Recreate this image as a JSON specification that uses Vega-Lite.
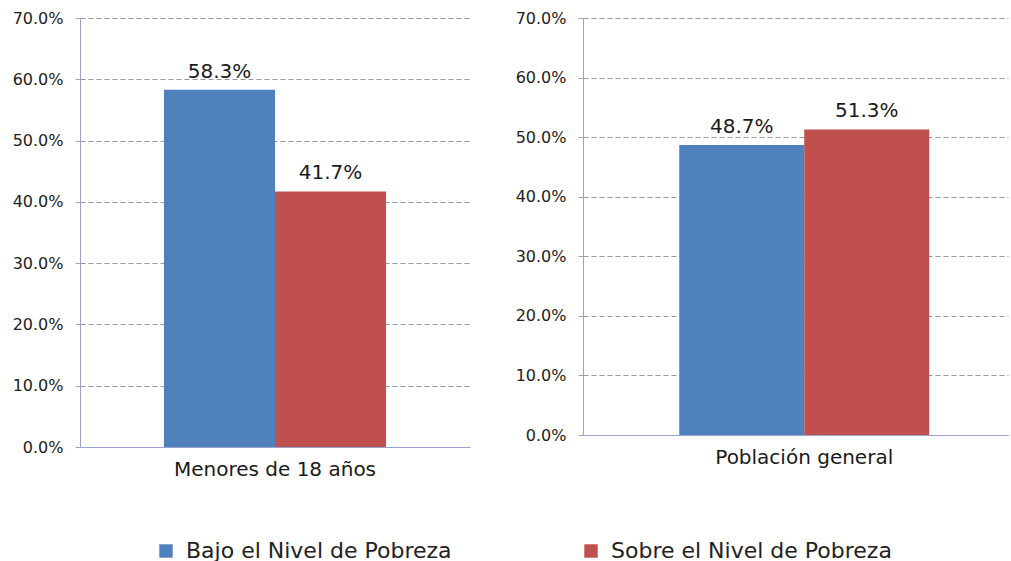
{
  "$schema": "https://vega.github.io/schema/vega-lite/v6.json",
  "padding": {"left": 12, "top": 10, "right": 2, "bottom": 0},
  "background": "white",
  "spacing": 45,
  "resolve": {"scale": {"x": "independent", "xOffset": "independent", "y": "independent"}},
  "hconcat": [
    {
      "width": 390,
      "height": 429,
      "data": {"values": [
        {"grupo": "Menores de 18 años", "nivel": "Bajo el Nivel de Pobreza", "pct": 0.583},
        {"grupo": "Menores de 18 años", "nivel": "Sobre el Nivel de Pobreza", "pct": 0.417}
      ]},
      "encoding": {
        "x": {"field": "grupo", "type": "nominal", "scale": {"paddingInner": 0, "paddingOuter": 0.378, "align": 0.5}},
        "xOffset": {"field": "nivel", "type": "nominal", "scale": {"paddingInner": 0, "paddingOuter": 0}},
        "y": {"field": "pct", "type": "quantitative", "scale": {"domain": [0, 0.7], "nice": false}, "axis": {"values": [0, 0.1, 0.2, 0.3, 0.4, 0.5, 0.6, 0.7]}}
      },
      "layer": [
        {
          "mark": {"type": "bar"},
          "encoding": {
            "color": {
              "field": "nivel", "type": "nominal",
              "scale": {"domain": ["Bajo el Nivel de Pobreza", "Sobre el Nivel de Pobreza"], "range": ["#4f81bd", "#c0504d"]},
              "legend": {"title": null, "orient": "none", "direction": "horizontal", "legendX": 75, "legendY": 522, "symbolType": "square", "symbolSize": 180, "symbolStrokeWidth": 0, "labelFont": "DejaVu Sans", "labelFontSize": 22, "labelColor": "#222", "labelLimit": 1000, "labelOffset": 9, "columnPadding": 128, "padding": 0}
            }
          }
        },
        {
          "mark": {"type": "text", "baseline": "alphabetic", "dy": -12, "font": "DejaVu Sans", "fontSize": 20, "color": "#1a1a1a"},
          "encoding": {"text": {"field": "pct", "type": "quantitative", "format": ".1%"}}
        }
      ]
    },
    {
      "width": 425,
      "height": 417,
      "data": {"values": [
        {"grupo": "Población general", "nivel": "Bajo el Nivel de Pobreza", "pct": 0.487},
        {"grupo": "Población general", "nivel": "Sobre el Nivel de Pobreza", "pct": 0.513}
      ]},
      "encoding": {
        "x": {"field": "grupo", "type": "nominal", "scale": {"paddingInner": 0, "paddingOuter": 0.35, "align": 0.55}},
        "xOffset": {"field": "nivel", "type": "nominal", "scale": {"paddingInner": 0, "paddingOuter": 0}},
        "y": {"field": "pct", "type": "quantitative", "scale": {"domain": [0, 0.7], "nice": false}, "axis": {"values": [0, 0.1, 0.2, 0.3, 0.4, 0.5, 0.6, 0.7]}}
      },
      "layer": [
        {
          "mark": {"type": "bar"},
          "encoding": {
            "color": {
              "field": "nivel", "type": "nominal",
              "scale": {"domain": ["Bajo el Nivel de Pobreza", "Sobre el Nivel de Pobreza"], "range": ["#4f81bd", "#c0504d"]},
              "legend": {"title": null, "orient": "none", "direction": "horizontal", "legendX": 75, "legendY": 522, "symbolType": "square", "symbolSize": 180, "symbolStrokeWidth": 0, "labelFont": "DejaVu Sans", "labelFontSize": 22, "labelColor": "#222", "labelLimit": 1000, "labelOffset": 9, "columnPadding": 128, "padding": 0}
            }
          }
        },
        {
          "mark": {"type": "text", "baseline": "alphabetic", "dy": -12, "font": "DejaVu Sans", "fontSize": 20, "color": "#1a1a1a"},
          "encoding": {"text": {"field": "pct", "type": "quantitative", "format": ".1%"}}
        }
      ]
    }
  ],
  "config": {
    "view": {"stroke": null},
    "axisY": {
      "title": null,
      "format": ".1%",
      "domainColor": "#9aa2cf",
      "tickColor": "#9aa2cf",
      "tickSize": 5,
      "labelPadding": 12,
      "labelFont": "DejaVu Sans",
      "labelFontSize": 16,
      "labelColor": "#222",
      "grid": true,
      "gridColor": "#999999",
      "gridDash": [5, 3],
      "gridWidth": 1
    },
    "axisX": {
      "title": null,
      "ticks": false,
      "labelAngle": 0,
      "labelPadding": 12,
      "labelLimit": 0,
      "labelFont": "DejaVu Sans",
      "labelFontSize": 20,
      "labelColor": "#1a1a1a",
      "domainColor": "#9aa2cf",
      "grid": false
    }
  }
}
